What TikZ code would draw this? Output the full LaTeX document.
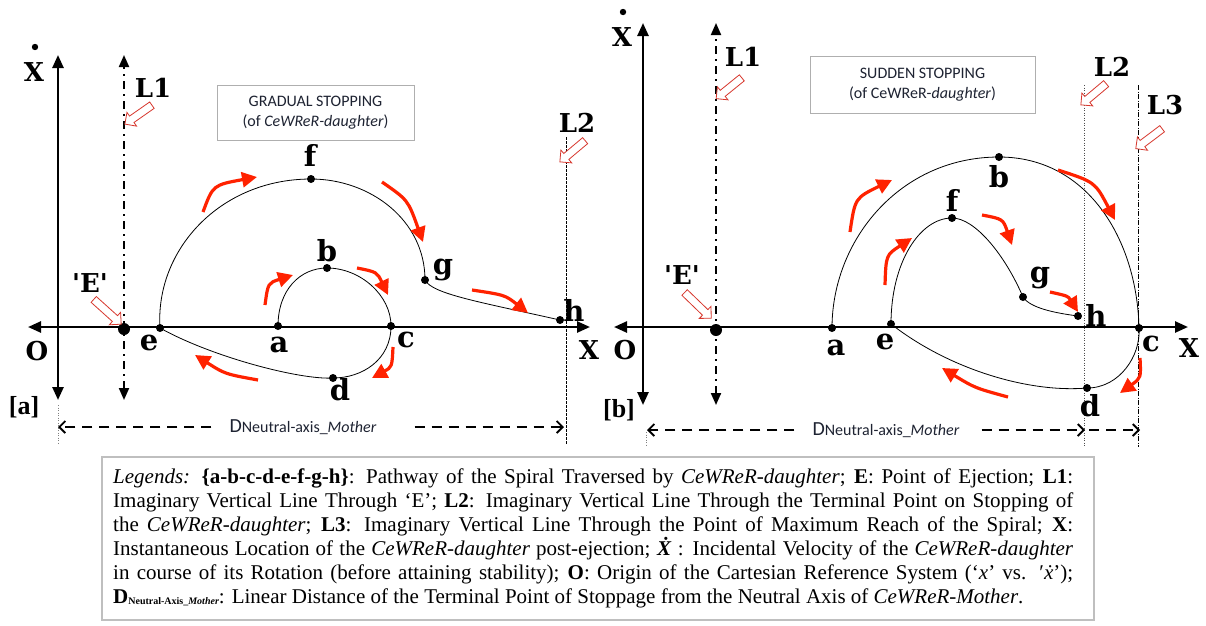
\documentclass[tikz,border=0pt]{standalone}
\usepackage{fontspec}
\setmainfont{Liberation Serif}
\newfontfamily\lblfont{DejaVu Serif}
\newfontfamily\calfont{Carlito}
\usetikzlibrary{arrows.meta,shapes.arrows}
\definecolor{arrred}{RGB}{255,34,0}
\definecolor{holred}{RGB}{215,55,45}
\definecolor{boxgray}{RGB}{175,175,175}
\definecolor{txtnavy}{RGB}{30,35,50}
\newcommand\lgline[1]{\makebox[960pt][s]{#1}}
\tikzset{
  axisline/.style={line width=2.5pt,{Triangle[length=13pt,width=11pt]}-{Triangle[length=13pt,width=11pt]}},
  lline/.style={line width=2pt,dash pattern=on 8pt off 5pt on 2pt off 5pt,{Triangle[length=12pt,width=10pt]}-{Triangle[length=12pt,width=10pt]}},
  spiral/.style={line width=0.8pt},
  redarr/.style={draw=arrred,line width=3.2pt,-{Triangle[length=15pt,width=15pt]}},
  hollow/.style={single arrow,draw=holred,fill=white,line width=0.8pt,minimum height=33pt,single arrow head extend=4.5pt,inner sep=3.5pt},
  lbl/.style={font=\lblfont\bfseries\fontsize{26}{26}\selectfont,inner sep=0},
  pl/.style={font=\lblfont\bfseries\fontsize{29}{29}\selectfont,inner sep=0},
  brk/.style={font=\bfseries\fontsize{26}{26}\selectfont,inner sep=0},
  dimarr/.style={line width=1.8pt,dash pattern=on 10pt off 7pt,-{Straight Barb[length=6pt,width=12pt]}},
  dimtxt/.style={font=\calfont\fontsize{16}{16}\selectfont,text=txtnavy,inner sep=0},
  thinv/.style={line width=0.7pt,dash pattern=on 2.5pt off 1.5pt},
  dotv/.style={line width=0.7pt,gray,dash pattern=on 1pt off 1.5pt},
  infobox/.style={draw=boxgray,line width=1pt,fill=white,align=center,text=txtnavy,font=\calfont\fontsize{16}{20}\selectfont},
  lgtxt/.style={anchor=base west,inner sep=0,font=\fontsize{21}{24}\selectfont}
}
\begin{document}
\begin{tikzpicture}[x=1pt,y=-1pt]
\useasboundingbox (0,0) rectangle (1206,625);
\fill[white] (0,0) rectangle (1206,625);

% ================= PANEL A =================
\coordinate (oAt) at (58,55);
\coordinate (oAb) at (58,400);
\coordinate (xAl) at (28,327);
\coordinate (xAr) at (590,327);
\coordinate (lAt) at (124,55);
\coordinate (lAb) at (124,400);
\draw[axisline] (oAb) -- (oAt);
\draw[axisline] (xAl) -- (xAr);
\draw[lline] (lAb) -- (lAt);
\coordinate (l2At) at (566,137);
\coordinate (l2Ab) at (566,445);
\draw[thinv] (l2At) -- (l2Ab);
\coordinate (oAd1) at (58,405);
\coordinate (oAd2) at (58,445);
\draw[dotv] (oAd1) -- (oAd2);

\node[infobox,minimum width=197pt,minimum height=55pt] (boxA) at (315.5,112.5)
  {GRADUAL STOPPING\\(of \textit{CeWReR-daughter})};

% spiral points
\coordinate (a1) at (278,326);
\coordinate (b1) at (327,268);
\coordinate (c1) at (391,326);
\coordinate (d1) at (333,378);
\coordinate (e1) at (160,328);
\coordinate (f1) at (311,179);
\coordinate (g1) at (425,280);
\coordinate (h1) at (560,320);
\coordinate (E1) at (124,329);
\draw[spiral] (a1) .. controls (278,290) and (300,268) .. (b1)
  .. controls (360,268) and (391,295) .. (c1)
  .. controls (391,360) and (362,378) .. (d1)
  .. controls (300,380) and (212,357) .. (e1)
  .. controls (155,250) and (220,179) .. (f1)
  .. controls (370,179) and (425,220) .. (g1)
  .. controls (432,294) and (480,302) .. (h1);
\foreach \p in {a1,b1,c1,d1,e1,f1,g1,h1} \fill (\p) circle (4pt);
\fill (E1) circle (6pt);

% red arrows
\draw[redarr] (203,212) .. controls (213,185) .. (257,177);
\draw[redarr] (382,182) .. controls (408,200) .. (423,242);
\draw[redarr] (265,305) .. controls (268,283) .. (293,275);
\draw[redarr] (357,268) .. controls (377,272) .. (388,295);
\draw[redarr] (393,347) .. controls (392,367) .. (372,378);
\draw[redarr] (258,380) .. controls (225,374) .. (195,355);
\draw[redarr] (472,290) .. controls (505,295) .. (528,313);

% hollow arrows
\node[hollow,rotate=215] (hL1a) at (140,113.5) {};
\node[hollow,rotate=318,minimum height=37pt] (hEa) at (106,310.5) {};
\node[hollow,rotate=220] (hL2a) at (574,150) {};

% labels
\node[lbl] (xdA) at (34,72) {X};
\fill (35,47) circle (3.2pt);
\node[lbl] (L1a) at (153,88) {L1};
\node[lbl] (L2a) at (577,123) {L2};
\node[lbl] (Ea) at (90,283) {\textquotesingle E\textquotesingle};
\node[lbl] (oA) at (37,351) {O};
\node[lbl] (xA) at (589,350) {X};
\node[brk] (brA) at (24,407) {[a]};
\node[pl] (la1) at (279,345) {a};
\node[pl] (lb1) at (327,251) {b};
\node[pl] (lc1) at (406,340) {c};
\node[pl] (ld1) at (340,390) {d};
\node[pl] (le1) at (149,343) {e};
\node[pl] (lf1) at (310,155) {f};
\node[pl] (lg1) at (443,270) {g};
\node[pl] (lh1) at (574,310) {h};

% dimension
\node[dimtxt] (dimA) at (303,427) {{\fontsize{20}{20}\selectfont D}Neutral-axis\_\textit{Mother}};
\coordinate (dAl) at (58,427);
\coordinate (dAr) at (564,427);
\draw[dimarr,shorten <=18pt] (dimA.west) -- (dAl);
\draw[dimarr,shorten <=38pt] (dimA.east) -- (dAr);

% ================= PANEL B =================
\coordinate (oBt) at (643,23);
\coordinate (oBb) at (643,405);
\coordinate (xBl) at (614,327);
\coordinate (xBr) at (1188,327);
\coordinate (lBt) at (716,23);
\coordinate (lBb) at (716,405);
\draw[axisline] (oBb) -- (oBt);
\draw[axisline] (xBl) -- (xBr);
\draw[lline] (lBb) -- (lBt);
\coordinate (l2Bt) at (1084,85);
\coordinate (l2Bb) at (1084,447);
\draw[dotv,black!70] (l2Bt) -- (l2Bb);
\coordinate (l3Bt) at (1138,85);
\coordinate (l3Bb) at (1138,447);
\draw[line width=0.7pt,dash pattern=on 5pt off 1.5pt on 1pt off 1.5pt] (l3Bt) -- (l3Bb);
\coordinate (oBd1) at (646,432);
\coordinate (oBd2) at (646,447);
\draw[dotv] (oBd1) -- (oBd2);

\node[infobox,minimum width=225pt,minimum height=57pt] (boxB) at (922.5,84.5)
  {SUDDEN STOPPING\\(of CeWReR-\textit{daughter})};

\coordinate (a2) at (832,328);
\coordinate (b2) at (999,157);
\coordinate (c2) at (1139,328);
\coordinate (d2) at (1087,388);
\coordinate (e2) at (891,324);
\coordinate (f2) at (952,218);
\coordinate (g2) at (1023,297);
\coordinate (h2) at (1078,316);
\coordinate (E2) at (716,330);
\draw[spiral] (a2) .. controls (832,240) and (900,157) .. (b2)
  .. controls (1088,157) and (1137,240) .. (c2)
  .. controls (1141,355) and (1120,388) .. (d2)
  .. controls (1030,393) and (950,370) .. (e2)
  .. controls (891,262) and (920,218) .. (f2)
  .. controls (975,218) and (1005,255) .. (g2)
  .. controls (1030,308) and (1055,313) .. (h2);
\foreach \p in {a2,b2,c2,d2,e2,f2,g2,h2} \fill (\p) circle (4pt);
\fill (E2) circle (6pt);

\draw[redarr] (850,232) .. controls (855,198) .. (892,180);
\draw[redarr] (1058,170) .. controls (1095,182) .. (1115,220);
\draw[redarr] (885,285) .. controls (886,255) .. (912,238);
\draw[redarr] (982,215) .. controls (1003,219) .. (1012,245);
\draw[redarr] (1050,292) .. controls (1068,296) .. (1078,312);
\draw[redarr] (1008,397) .. controls (975,388) .. (942,368);
\draw[redarr] (1140,358) .. controls (1141,378) .. (1120,393);

\node[hollow,rotate=219] (hL1b) at (730.5,87) {};
\node[hollow,rotate=316,minimum height=37pt] (hEb) at (696.5,304) {};
\node[hollow,rotate=220] (hL2b) at (1095,93) {};
\node[hollow,rotate=217] (hL3b) at (1150.5,137.5) {};

\node[lbl] (xdB) at (622,37) {X};
\fill (623,12) circle (3.2pt);
\node[lbl] (L1b) at (743,57) {L1};
\node[lbl] (L2b) at (1112,67) {L2};
\node[lbl] (L3b) at (1165,105) {L3};
\node[lbl] (Eb) at (682,275) {\textquotesingle E\textquotesingle};
\node[lbl] (oB) at (625,350) {O};
\node[lbl] (xB) at (1189,348) {X};
\node[brk] (brB) at (619,410) {[b]};
\node[pl] (la2) at (836,348) {a};
\node[pl] (lb2) at (999,177) {b};
\node[pl] (lc2) at (1151,344) {c};
\node[pl] (ld2) at (1090,406) {d};
\node[pl] (le2) at (885,342) {e};
\node[pl] (lf2) at (952,200) {f};
\node[pl] (lg2) at (1040,278) {g};
\node[pl] (lh2) at (1096,315) {h};

\node[dimtxt] (dimB) at (886,430) {{\fontsize{20}{20}\selectfont D}Neutral-axis\_\textit{Mother}};
\coordinate (dBl) at (647,430);
\coordinate (dBm) at (1085,430);
\coordinate (dBr) at (1140,430);
\draw[dimarr,shorten <=18pt] (dimB.west) -- (dBl);
\draw[dimarr,shorten <=22pt] (dimB.east) -- (dBm);
\draw[dimarr,shorten <=4pt] (dBm) -- (dBr);

% ================= LEGEND =================
\draw[boxgray!80,line width=1.2pt,fill=white] (102,457) rectangle (1094,620);
\node[lgtxt] (lg1) at (113,483) {\lgline{\textit{Legends:} \textbf{\{a-b-c-d-e-f-g-h\}}: Pathway of the Spiral Traversed by \textit{CeWReR-daughter}; \textbf{E}: Point of Ejection; \textbf{L1}:}};
\node[lgtxt] (lg2) at (113,507) {\lgline{Imaginary Vertical Line Through ‘E’; \textbf{L2}: Imaginary Vertical Line Through the Terminal Point on Stopping of}};
\node[lgtxt] (lg3) at (113,531) {\lgline{the \textit{CeWReR-daughter}; \textbf{L3}: Imaginary Vertical Line Through the Point of Maximum Reach of the Spiral; \textbf{X}:}};
\node[lgtxt] (lg4) at (113,555) {\lgline{Instantaneous Location of the \textit{CeWReR-daughter} post-ejection; \textbf{\textit{\.X}} : Incidental Velocity of the \textit{CeWReR-daughter}}};
\node[lgtxt] (lg5) at (113,579) {\lgline{in course of its Rotation (before attaining stability); \textbf{O}: Origin of the Cartesian Reference System (‘\textit{x}’ vs. ′\textit{\.x}’);}};
\node[lgtxt] (lg6) at (113,603) {\textbf{D}\raisebox{-1.5pt}{\fontsize{10}{10}\selectfont\textbf{Neutral-Axis\_\textit{Mother}}}: Linear Distance of the Terminal Point of Stoppage from the Neutral Axis of \textit{CeWReR-Mother}.};
\end{tikzpicture}
\end{document}
